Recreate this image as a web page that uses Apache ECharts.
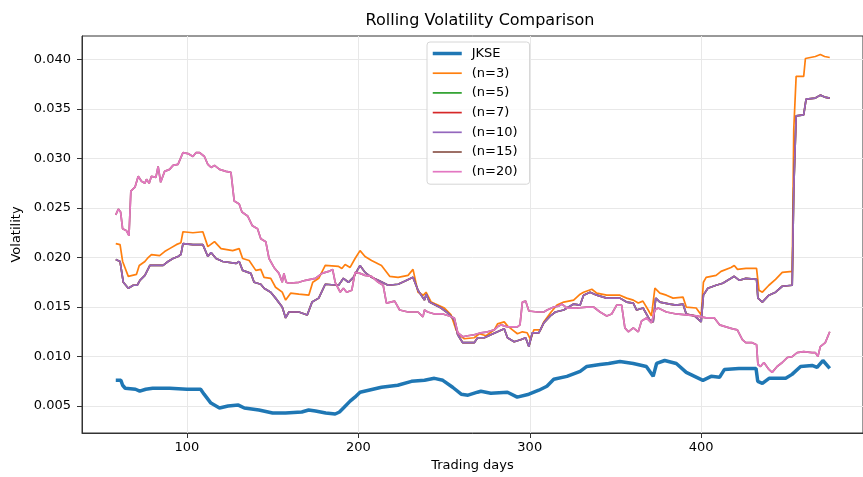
<!DOCTYPE html>
<html>
<head>
<meta charset="utf-8">
<title>Rolling Volatility Comparison</title>
<script src="https://cdn.jsdelivr.net/npm/echarts/dist/echarts.min.js"></script>
<style>
  html, body { margin: 0; padding: 0; background: #fff; }
  #chart { width: 863px; height: 477px; }
</style>
</head>
<body>
<div id="chart"></div>
<script>
// tick positions
var xTicks = [100, 200, 300, 400];
var yTicks = [0.005, 0.010, 0.015, 0.020, 0.025, 0.030, 0.035, 0.040];

// [trading day, volatility]
var jkse = [[58.5,0.0076],[61.5,0.0076],[62.5,0.0071],[64,0.0068],[70,0.0067],[71,0.0065],[72.5,0.0065],[76,0.0067],[80,0.0068],[90,0.0068],[100,0.0067],[108,0.0067],[110,0.0062],[114,0.0053],[119,0.0048],[124,0.0050],[130,0.0051],[133.5,0.0048],[142,0.0046],[150,0.0043],[157.5,0.0043],[167,0.0044],[171,0.0046],[175,0.0045],[181,0.0043],[186.5,0.0042],[189,0.0044],[191.3,0.0048],[195.2,0.0055],[198,0.0059],[201,0.0064],[206,0.0066],[213.5,0.0069],[223,0.0071],[231,0.0075],[238.6,0.0076],[244.4,0.0078],[249.3,0.0076],[255,0.0069],[260,0.0062],[264,0.0061],[269.5,0.0064],[271.5,0.0065],[277.3,0.0063],[287,0.0064],[292.7,0.0059],[299.5,0.0062],[305.3,0.0066],[310,0.0070],[314,0.0077],[321.7,0.0080],[329.4,0.0085],[333.3,0.0090],[341,0.0092],[346,0.0093],[352.6,0.0095],[360.4,0.0093],[368,0.0090],[372,0.0080],[374,0.0093],[378.7,0.0096],[385.5,0.0093],[391.3,0.0084],[401,0.0076],[405.8,0.0080],[410.7,0.0079],[413.6,0.0087],[422,0.0088],[432,0.0088],[433,0.0075],[435.7,0.0073],[439.6,0.0078],[449.3,0.0078],[453,0.0082],[458,0.0090],[464.7,0.0091],[467.6,0.0089],[471,0.0096],[475,0.0088]];

var vol3 = [[58.5,0.0214],[61,0.0213],[62.5,0.0196],[65.8,0.0181],[70.6,0.0183],[72.2,0.0192],[75.5,0.0196],[77.4,0.0200],[79.3,0.0203],[84.1,0.0202],[87,0.0206],[89.9,0.0209],[93.8,0.0213],[96.5,0.0215],[97.7,0.0226],[103.5,0.0225],[109.3,0.0226],[112.2,0.0211],[116.1,0.0216],[119.9,0.0209],[126.7,0.0207],[130.5,0.0209],[132.5,0.0199],[136.3,0.0197],[140.2,0.0187],[143.1,0.0188],[145,0.0180],[148.9,0.0179],[151.7,0.0170],[155.6,0.0165],[157.6,0.0157],[160.5,0.0164],[165.3,0.0163],[171.1,0.0162],[173.4,0.0175],[176.9,0.0179],[180.7,0.0192],[188.5,0.0191],[190.4,0.0189],[192.3,0.0193],[195.2,0.0190],[198.1,0.0199],[201,0.0207],[203.9,0.0201],[207.7,0.0197],[213.5,0.0192],[218.3,0.0181],[223.2,0.0180],[229,0.0182],[231.9,0.0188],[234.8,0.0165],[238,0.0162],[239.5,0.0165],[242.5,0.0155],[250.2,0.0149],[254.1,0.0142],[257,0.0127],[258.9,0.0122],[261.8,0.0118],[267.6,0.0119],[270.6,0.0123],[274.5,0.0121],[279.3,0.0127],[281.2,0.0133],[285.1,0.0135],[287,0.0131],[289.9,0.0127],[292.8,0.0123],[295.7,0.0125],[298.5,0.0124],[300.5,0.0117],[302.4,0.0127],[306.3,0.0127],[308.2,0.0135],[312,0.0144],[315.9,0.0152],[319.8,0.0155],[325.6,0.0157],[329.4,0.0163],[331.4,0.0165],[336.2,0.0168],[339.1,0.0164],[344.9,0.0162],[352.6,0.0162],[356.5,0.0159],[360.4,0.0157],[363.3,0.0154],[366,0.0156],[369.1,0.0147],[371,0.0141],[373,0.0169],[375.9,0.0164],[379.7,0.0162],[383.6,0.0159],[389.4,0.0160],[391.3,0.0150],[397.1,0.0149],[400,0.0142],[401.3,0.0175],[402.9,0.0180],[408.7,0.0182],[411.6,0.0186],[417.4,0.0190],[419.3,0.0192],[421.2,0.0188],[426.1,0.0189],[432.3,0.0189],[433.7,0.0167],[435.7,0.0165],[439.5,0.0172],[443.4,0.0178],[447.3,0.0185],[453.1,0.0186],[454,0.0329],[455.4,0.0383],[459.8,0.0383],[460.8,0.0401],[466.6,0.0403],[469.5,0.0405],[472,0.0403],[475,0.0402]];

var vol10 = [[58.5,0.0198],[61,0.0196],[62.9,0.0175],[65.8,0.0169],[68.7,0.0172],[71,0.0172],[72.6,0.0177],[75.5,0.0182],[78.4,0.0192],[86.1,0.0192],[89,0.0196],[91.9,0.0199],[94.8,0.0201],[96.5,0.0203],[97.7,0.0214],[103.5,0.0213],[109.3,0.0213],[112.2,0.0201],[114.1,0.0205],[117,0.0199],[120.9,0.0196],[128.6,0.0194],[130.5,0.0196],[132.5,0.0187],[137.3,0.0184],[139.2,0.0175],[143.1,0.0173],[145,0.0169],[148.9,0.0165],[151.7,0.0159],[155.6,0.0150],[157.6,0.0139],[159.5,0.0145],[165.3,0.0145],[170.2,0.0142],[173,0.0155],[176.9,0.0159],[180.7,0.0173],[188.5,0.0172],[191.3,0.0179],[194.2,0.0175],[197.1,0.0180],[201,0.0192],[203.9,0.0185],[207.7,0.0180],[211.6,0.0177],[217.4,0.0172],[223.2,0.0173],[227,0.0176],[231.9,0.0180],[234.8,0.0167],[238.6,0.0157],[239.6,0.0163],[241.5,0.0155],[248.3,0.0149],[252.2,0.0144],[256,0.0137],[258,0.0122],[260.9,0.0114],[267.6,0.0114],[269.6,0.0119],[273.5,0.0119],[277.3,0.0122],[281.2,0.0125],[285.1,0.0128],[287,0.0119],[290.9,0.0115],[294.7,0.0117],[297.6,0.0119],[299.5,0.0110],[301.5,0.0124],[305.3,0.0124],[308.2,0.0134],[312,0.0141],[315,0.0145],[319.8,0.0147],[325.6,0.0153],[329.4,0.0152],[331.4,0.0162],[335.2,0.0165],[339.1,0.0162],[344.9,0.0159],[352.6,0.0159],[356.5,0.0155],[360.4,0.0154],[362.3,0.0147],[366.1,0.0149],[370,0.0137],[372,0.0135],[373.5,0.0159],[375.9,0.0155],[381.7,0.0153],[385.5,0.0152],[389.4,0.0153],[391.3,0.0143],[396.1,0.0141],[400,0.0135],[401.3,0.0162],[403.9,0.0169],[408.7,0.0172],[412.6,0.0174],[417.4,0.0179],[419.3,0.0181],[422.3,0.0177],[426.1,0.0179],[432.3,0.0178],[433.1,0.0159],[435.7,0.0155],[439.5,0.0162],[443.4,0.0165],[447.3,0.0171],[453.1,0.0172],[454,0.0269],[455.4,0.0343],[459.8,0.0344],[461.2,0.0360],[466.6,0.0361],[469.5,0.0364],[472,0.0362],[475,0.0361]];

var vol20 = [[58.5,0.0243],[60,0.0249],[61.3,0.0246],[62.5,0.0229],[64.8,0.0227],[66.2,0.0222],[67.3,0.0267],[69.7,0.0271],[71.6,0.0282],[73.5,0.0277],[75.5,0.0275],[76.4,0.0279],[78,0.0275],[79.3,0.0282],[81.9,0.0281],[83.2,0.0292],[84.7,0.0276],[87,0.0287],[89.9,0.0289],[91.9,0.0293],[94.8,0.0294],[97.7,0.0306],[100.6,0.0305],[103.5,0.0302],[105.4,0.0306],[107.4,0.0306],[110.2,0.0302],[112.2,0.0294],[114.1,0.0291],[116.1,0.0293],[119,0.0289],[122.8,0.0287],[125.7,0.0286],[127.6,0.0257],[130.5,0.0254],[132.1,0.0246],[135.4,0.0242],[138.2,0.0232],[141.2,0.0229],[143.1,0.0219],[146,0.0216],[147.9,0.0199],[150.8,0.0190],[153.7,0.0184],[155.6,0.0175],[156.6,0.0184],[157.9,0.0175],[159.5,0.0174],[165.3,0.0175],[169.2,0.0177],[174.9,0.0179],[178.8,0.0184],[182.7,0.0186],[185,0.0188],[186.5,0.0175],[189.4,0.0165],[191.3,0.0169],[193.2,0.0165],[196.2,0.0167],[198.1,0.0185],[201,0.0184],[203.9,0.0182],[207.7,0.0181],[211.6,0.0175],[214.5,0.0172],[216.4,0.0154],[221.2,0.0156],[224.1,0.0147],[229,0.0145],[234.8,0.0145],[237.7,0.0140],[238.6,0.0147],[240.5,0.0145],[244.4,0.0143],[249.3,0.0143],[253.1,0.0141],[256,0.0139],[258,0.0124],[260.9,0.0120],[263.8,0.0121],[267.6,0.0122],[271.5,0.0124],[275.4,0.0125],[279.3,0.0127],[281.2,0.0130],[283.2,0.0132],[287,0.0130],[292.8,0.0130],[294.3,0.0132],[295.7,0.0155],[297.6,0.0156],[299.5,0.0146],[304.4,0.0145],[308.2,0.0145],[310.1,0.0147],[314,0.0150],[316.9,0.0151],[318.8,0.0153],[321.7,0.0149],[327.5,0.0149],[333.3,0.0150],[337.2,0.0150],[341,0.0145],[344.9,0.0141],[347.8,0.0143],[350.7,0.0152],[353.6,0.0152],[355.5,0.0129],[357.5,0.0125],[360.4,0.0129],[363.3,0.0125],[365.2,0.0136],[368.1,0.0139],[371,0.0134],[373,0.0147],[374.9,0.0149],[379.7,0.0145],[385.5,0.0143],[391.3,0.0142],[397.1,0.0141],[402.9,0.0139],[407.7,0.0139],[410.7,0.0132],[414.5,0.0130],[418.4,0.0128],[421.1,0.0127],[424,0.0117],[426,0.0114],[429.8,0.0114],[432.3,0.0112],[433.1,0.0092],[434.6,0.0090],[436.6,0.0094],[439.5,0.0087],[441.4,0.0084],[444.3,0.0090],[447.3,0.0094],[450.2,0.0099],[453.1,0.0100],[456,0.0104],[459.8,0.0105],[464.7,0.0104],[466.6,0.0104],[468.1,0.0100],[469.5,0.0110],[472.4,0.0114],[475,0.0125]];

// n=5 / n=7 sit under n=10, n=15 sits under n=20 in the picture
var vol5 = vol10;
var vol7 = vol10;
var vol15 = vol20;

var seriesNames = ['JKSE', '(n=3)', '(n=5)', '(n=7)', '(n=10)', '(n=15)', '(n=20)'];
var seriesData = [jkse, vol3, vol5, vol7, vol10, vol15, vol20];
var colors = ['#1f77b4', '#ff7f0e', '#2ca02c', '#d62728', '#9467bd', '#8c564b', '#e377c2'];

var font = 'DejaVu Sans';

var chart = echarts.init(document.getElementById('chart'), null, { renderer: 'canvas' });

var series = [];
var legendData = [];
for (var i = 0; i < seriesNames.length; i++) {
  var w = i == 0 ? 3.5 : 1.7; // index line is drawn thicker
  series.push({
    name: seriesNames[i],
    type: 'line',
    data: seriesData[i],
    symbol: 'none',
    lineStyle: { width: w, color: colors[i] },
    itemStyle: { color: colors[i] }
  });
  legendData.push({ name: seriesNames[i], lineStyle: { width: w, color: colors[i] } });
}

var option = {
  animation: false,
  color: colors,
  title: {
    text: 'Rolling Volatility Comparison',
    left: 475,
    textAlign: 'center',
    top: 8,
    textStyle: { fontFamily: font, fontSize: 16, fontWeight: 'normal', color: '#000' }
  },
  legend: {
    orient: 'vertical',
    left: 427,
    top: 42,
    data: legendData,
    itemWidth: 29,
    itemHeight: 14,
    itemGap: 6.7,
    itemStyle: { opacity: 0 }, // hide the marker, keep the line swatch
    padding: [5, 12, 6, 4],
    borderColor: '#d6d6d6',
    borderWidth: 1,
    borderRadius: 3,
    backgroundColor: 'rgba(255,255,255,0.8)',
    textStyle: { fontFamily: font, fontSize: 13, color: '#000', padding: [0, 0, 0, 5] }
  },
  grid: {
    left: 82,
    right: -5,
    top: 36,
    bottom: 41,
    show: true,
    borderColor: '#333',
    borderWidth: 1
  },
  xAxis: {
    type: 'value',
    min: 38.8,
    max: 494.4,
    name: 'Trading days',
    nameLocation: 'middle',
    nameGap: 26,
    nameTextStyle: { fontFamily: font, fontSize: 13, color: '#000' },
    axisLine: { show: true, lineStyle: { color: '#333', width: 1 } },
    axisTick: { show: true, length: 5, customValues: xTicks, lineStyle: { color: '#333' } },
    axisLabel: {
      customValues: xTicks,
      margin: 8,
      fontFamily: font, fontSize: 13, color: '#000',
      formatter: function (v) { return String(v); }
    },
    splitLine: { show: true, lineStyle: { color: '#e8e8e8', width: 1 } }
  },
  yAxis: {
    type: 'value',
    min: 0.00228,
    max: 0.04237,
    name: 'Volatility',
    nameLocation: 'middle',
    nameRotate: 90,
    nameGap: 57,
    nameTextStyle: { fontFamily: font, fontSize: 13, color: '#000' },
    axisLine: { show: true, lineStyle: { color: '#333', width: 1 } },
    axisTick: { show: true, length: 5, customValues: yTicks, lineStyle: { color: '#333' } },
    axisLabel: {
      customValues: yTicks,
      margin: 11,
      fontFamily: font, fontSize: 13, color: '#000',
      formatter: function (v) { return v.toFixed(3); }
    },
    splitLine: { show: true, lineStyle: { color: '#e8e8e8', width: 1 } }
  },
  series: series
};

chart.setOption(option, true);
</script>
</body>
</html>
